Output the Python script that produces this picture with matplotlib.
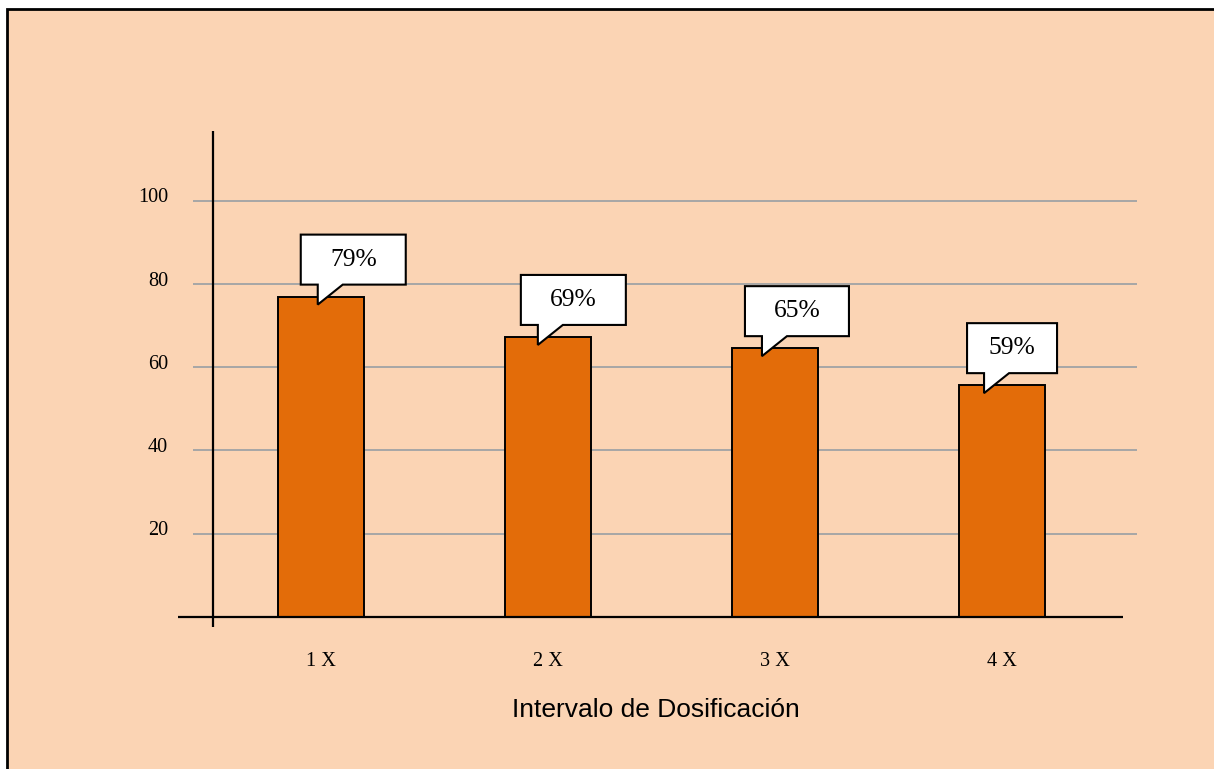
import numpy as np
import matplotlib
matplotlib.use("Agg")
import matplotlib.pyplot as plt
from matplotlib.patches import Polygon, Rectangle

# data
categories = ["1 X", "2 X", "3 X", "4 X"]
bar_values = [77.0, 67.3, 64.6, 55.7]
callout_labels = ["79%", "69%", "65%", "59%"]
y_ticks = [20, 40, 60, 80, 100]
x_title = "Intervalo de Dosificación"

# layout (pixels, image is 1214x769 at dpi 100)
W, H = 1214, 769
box_dx = [-20, -27, -30, -35]      # box left edge relative to bar centre
box_w = [105, 105, 104, 90]
box_h = 50
box_gap = 12                       # gap between box bottom and bar top
peach = "#FBD4B4"
orange = "#E36C09"
grid_grey = "#A6A6A6"
serif = "Liberation Serif"
sans = "Liberation Sans"

fig = plt.figure(figsize=(W / 100, H / 100), dpi=100)
fig.patch.set_facecolor("white")
# framed peach background (only left and top edges visible)
fig.patches.append(Rectangle((7 / W, -0.1), 1.2, (H - 9) / H + 0.1, transform=fig.transFigure,
                             facecolor=peach, edgecolor="black", linewidth=2.0, zorder=-1))

L, R, T, B = 170, 1140, 120, 640
ax = fig.add_axes([L / W, (H - B) / H, (R - L) / W, (B - T) / H])
ax.patch.set_visible(False)
for s in ax.spines.values():
    s.set_visible(False)
ax.set_xticks([])
ax.set_yticks([])

# pixel -> data mapping of the original
px_x0, px_per_x = 320.75, 227.1    # bar 0 centre, spacing
px_y0, px_per_y = 616.7, 4.157     # zero line, px per unit


def ux(px):
    return (px - px_x0) / px_per_x


def vy(py):
    return (px_y0 - py) / px_per_y


ax.set_xlim(ux(L), ux(R))
ax.set_ylim(vy(B), vy(T))

x = np.arange(len(categories))

# grid lines
ax.hlines(y_ticks, ux(193), ux(1137), color=grid_grey, linewidth=1.4, zorder=1)
# axis lines
ax.hlines(0, ux(178), ux(1123), color="black", linewidth=1.6, zorder=3)
ax.vlines(ux(212.7), vy(626.7), vy(130.7), color="black", linewidth=1.6, zorder=3)

ax.bar(x, bar_values, width=86 / px_per_x, color=orange, edgecolor="black",
       linewidth=1.4, zorder=2)

# tick labels
for t in y_ticks:
    ax.annotate(str(t), (ux(168), t), xytext=(0, 3), textcoords="offset pixels",
                ha="right", va="center", fontsize=14.6, family=serif, annotation_clip=False)
for xi, lab in zip(x, categories):
    ax.annotate(lab, (xi, vy(666)), ha="center", va="baseline", fontsize=14.6,
                family=serif, annotation_clip=False)

fig.text(655.5 / W, (H - 717) / H, x_title, ha="center", va="baseline",
         fontsize=19, family=sans)

# callout boxes
to_disp = ax.transData
to_data = ax.transData.inverted()
for i, (xi, val, lab) in enumerate(zip(x, bar_values, callout_labels)):
    cx, ty = to_disp.transform((xi, val))      # display coords (y up)
    left = cx + box_dx[i]
    right = left + box_w[i]
    bottom = ty + box_gap
    top = bottom + box_h
    verts = [(left, top), (right, top), (right, bottom),
             (left + 42, bottom), (left + 17, ty - 8), (left + 17, bottom),
             (left, bottom)]
    verts = to_data.transform(verts)
    ax.add_patch(Polygon(verts, closed=True, facecolor="white", edgecolor="black",
                         linewidth=1.5, zorder=4))
    tx, tyc = to_data.transform(((left + right) / 2, (top + bottom) / 2))
    ax.text(tx, tyc, lab, ha="center", va="center", fontsize=18.4, family=serif, zorder=5)

fig.savefig("out.png", dpi=100)
